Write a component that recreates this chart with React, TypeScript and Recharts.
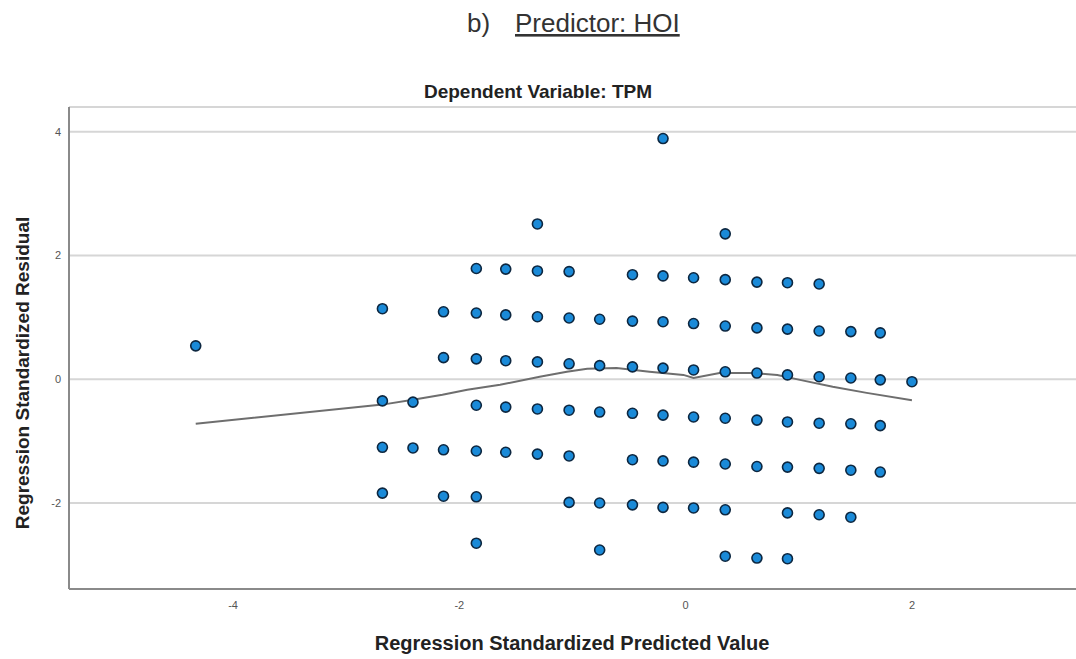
import { ScatterChart, Scatter, XAxis, YAxis, CartesianGrid } from 'recharts';

// predicted value of each column of points
const predicted = [
  -4.33, -2.68, -2.41, -2.14, -1.85, -1.59, -1.31, -1.03, -0.76, -0.47,
  -0.2, 0.07, 0.35, 0.63, 0.9, 1.18, 1.46, 1.72, 2.0,
];

// residuals in each column, top to bottom
const residuals = [
  [0.54],
  [1.14, -0.35, -1.1, -1.84],
  [-0.37, -1.11],
  [1.09, 0.35, -1.14, -1.89],
  [1.79, 1.07, 0.33, -0.42, -1.16, -1.9, -2.65],
  [1.78, 1.04, 0.3, -0.45, -1.18],
  [2.51, 1.75, 1.01, 0.28, -0.48, -1.21],
  [1.74, 0.99, 0.25, -0.5, -1.24, -1.99],
  [0.97, 0.22, -0.53, -2.0, -2.76],
  [1.69, 0.94, 0.2, -0.55, -1.3, -2.03],
  [3.89, 1.67, 0.93, 0.18, -0.58, -1.32, -2.07],
  [1.64, 0.9, 0.15, -0.61, -1.34, -2.08],
  [2.35, 1.61, 0.86, 0.12, -0.63, -1.37, -2.11, -2.86],
  [1.57, 0.83, 0.1, -0.66, -1.41, -2.89],
  [1.56, 0.81, 0.07, -0.69, -1.42, -2.16, -2.9],
  [1.54, 0.78, 0.04, -0.71, -1.44, -2.19],
  [0.77, 0.02, -0.72, -1.47, -2.23],
  [0.75, -0.01, -0.75, -1.5],
  [-0.04],
];

// fit line
const fitX = [
  -4.33, -2.68, -2.41, -2.15, -1.93, -1.64, -1.29, -1.05, -0.87, -0.61,
  -0.32, -0.02, 0.07, 0.3, 0.57, 0.81, 1.01, 1.3, 1.6, 2.0,
];
const fitY = [
  -0.72, -0.41, -0.33, -0.25, -0.17, -0.09, 0.04, 0.12, 0.17, 0.18,
  0.12, 0.07, 0.02, 0.1, 0.1, 0.07, -0.01, -0.12, -0.22, -0.34,
];

const xTicks = [-4, -2, 0, 2];
const yTicks = [-2, 0, 2, 4];

const points = predicted.flatMap((x, i) => residuals[i].map((y) => ({ x, y })));
const fit = fitX.map((x, i) => ({ x, y: fitY[i] }));

const font = '"Liberation Sans", Arial, sans-serif';

const Dot = (props: any) => (
  <circle cx={props.cx} cy={props.cy} r={5} fill="#1a8ad8" stroke="#0d2740" strokeWidth={1.6} />
);

export default function App() {
  return (
    <div style={{ width: 1076, height: 659, background: '#fff', fontFamily: font }}>
      <style>{'body{margin:0}'}</style>
      <ScatterChart width={1076} height={659} margin={{ top: 107, right: 0, bottom: 0, left: 0 }}>
        <text x={467} y={32} fontSize={26} fill="#333" fontFamily={font}>b)</text>
        <text x={515} y={32} fontSize={26} fill="#333" fontFamily={font} textDecoration="underline">
          Predictor: HOI
        </text>
        <text x={538} y={98} fontSize={19} fontWeight="bold" fill="#222" textAnchor="middle" fontFamily={font}>
          Dependent Variable: TPM
        </text>
        <text
          x={22}
          y={373}
          fontSize={19}
          fontWeight="bold"
          fill="#222"
          textAnchor="middle"
          dominantBaseline="central"
          transform="rotate(-90, 22, 373)"
          fontFamily={font}
        >
          Regression Standardized Residual
        </text>
        <text x={572} y={650} fontSize={20} fontWeight="bold" fill="#222" textAnchor="middle" fontFamily={font}>
          Regression Standardized Predicted Value
        </text>
        <CartesianGrid vertical={false} stroke="#d6d6d6" strokeWidth={2} />
        <XAxis
          type="number"
          dataKey="x"
          domain={[-5.45, 3.45]}
          ticks={xTicks}
          allowDataOverflow
          height={70}
          tickLine={false}
          tickSize={0}
          tickMargin={12}
          axisLine={{ stroke: '#8a8a8a', strokeWidth: 2 }}
          tick={{ fontSize: 11, fill: '#555', fontFamily: font }}
        />
        <YAxis
          type="number"
          dataKey="y"
          domain={[-3.39, 4.4]}
          ticks={yTicks}
          allowDataOverflow
          width={69}
          tickLine={false}
          tickSize={0}
          tickMargin={8}
          axisLine={{ stroke: '#8a8a8a', strokeWidth: 2 }}
          tick={{ fontSize: 11, fill: '#555', fontFamily: font }}
        />
        <Scatter
          data={fit}
          line={{ stroke: '#6e6e6e', strokeWidth: 2 }}
          shape={() => <g />}
          isAnimationActive={false}
        />
        <Scatter data={points} shape={Dot} isAnimationActive={false} />
      </ScatterChart>
    </div>
  );
}
